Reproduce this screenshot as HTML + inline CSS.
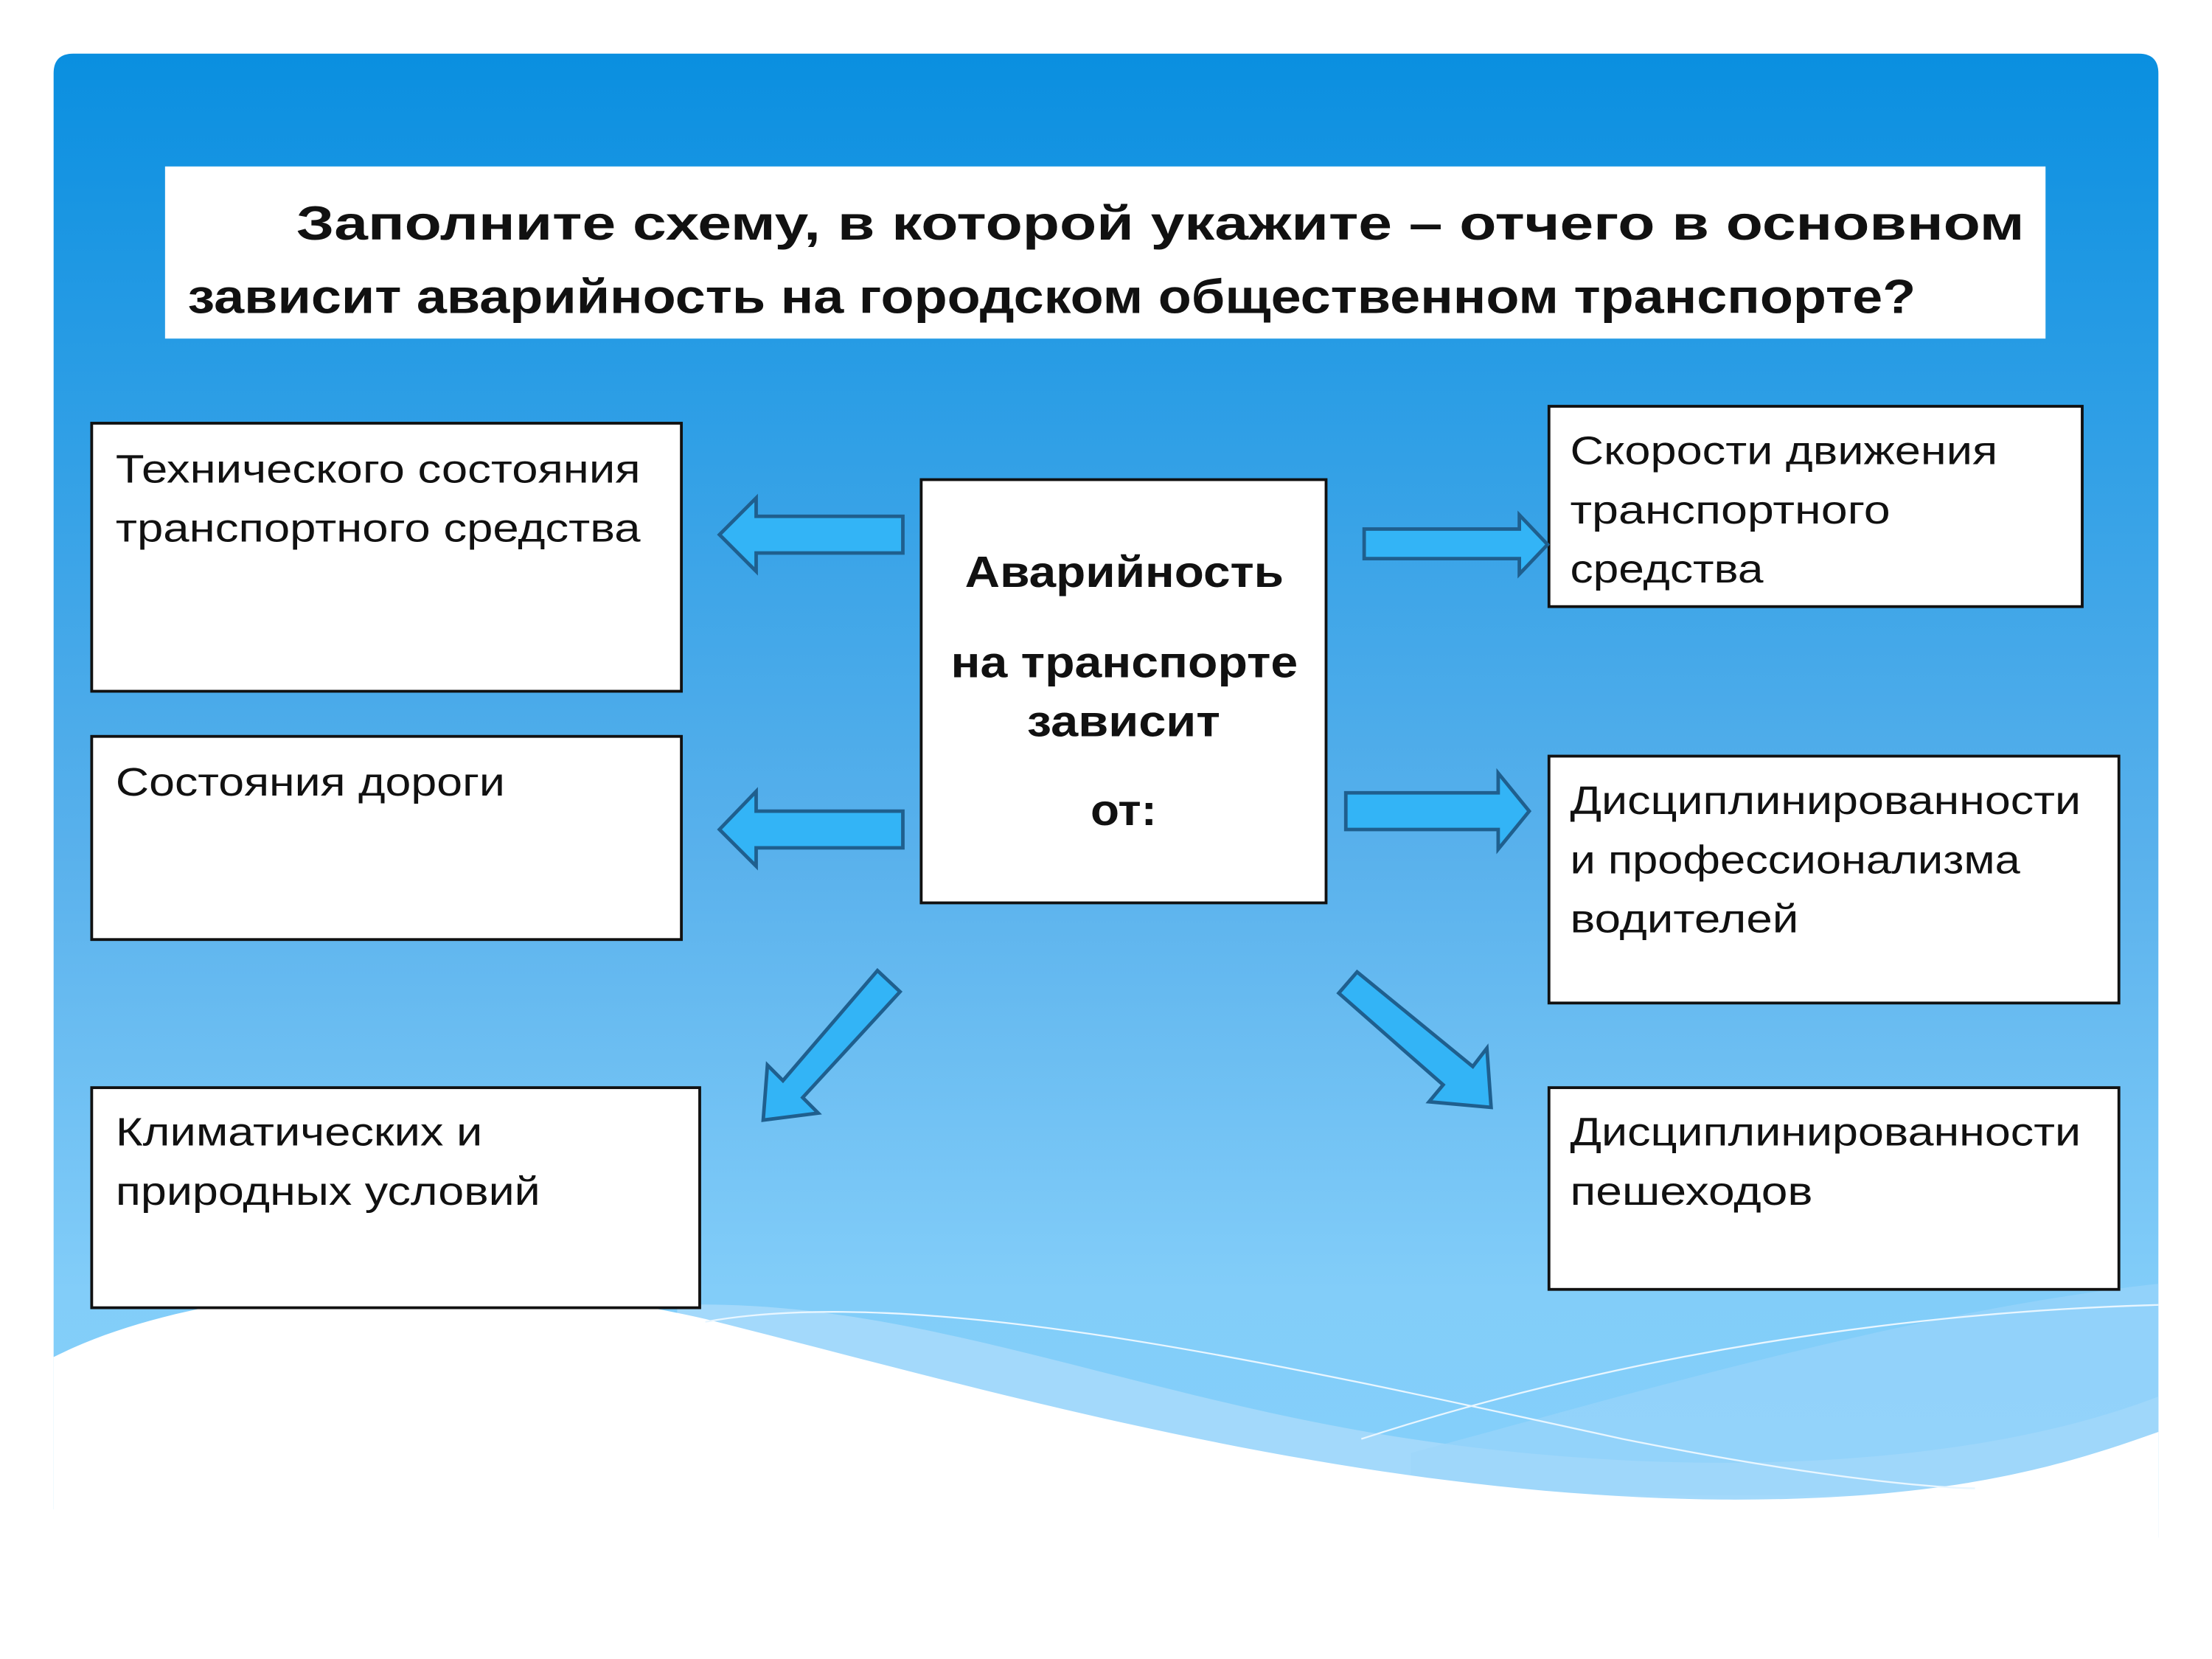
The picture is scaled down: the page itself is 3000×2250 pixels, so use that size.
<!DOCTYPE html>
<html><head><meta charset="utf-8"><style>
html,body{margin:0;padding:0;background:#fff;}
svg{display:block;}
.t{font-family:"Liberation Sans",sans-serif;font-size:28px;fill:#111;}
.b{font-family:"Liberation Sans",sans-serif;font-weight:bold;font-size:31px;fill:#111;}
.h{font-family:"Liberation Sans",sans-serif;font-weight:bold;font-size:34px;fill:#111;}
.ar{fill:#33b4f6;stroke:#1f5f8e;stroke-width:2.5;}
.bx{fill:#fff;stroke:#111;stroke-width:2;}
</style></head><body>
<svg width="3000" height="2250" viewBox="0 0 1568 1176" preserveAspectRatio="none" xmlns="http://www.w3.org/2000/svg">
<defs>
<linearGradient id="bg" x1="0" y1="0" x2="0" y2="1">
<stop offset="0" stop-color="#0a8fe0"/>
<stop offset="0.55" stop-color="#59b1ec"/>
<stop offset="0.85" stop-color="#82cdf9"/>
<stop offset="1" stop-color="#85d0fa"/>
</linearGradient>
</defs>
<path d="M38,52 Q38,38 52,38 L1516,38 Q1530,38 1530,52 L1530,1070 L38,1070 Z" fill="url(#bg)"/>
<path d="M480,925 C650,920 800,990 1000,1020 C1200,1050 1400,1040 1530,990 L1530,1090 L480,1090 Z" fill="#a3d9fb"/>
<path d="M1000,1030 C1150,990 1350,930 1530,910 L1530,1060 L1000,1060 Z" fill="#9cd6fa" opacity="0.6"/>
<path d="M38,962 C150,905 350,900 500,935 C700,985 950,1060 1220,1063 C1380,1064 1460,1040 1530,1015 L1530,1176 L38,1176 Z" fill="#fff"/>
<path d="M500,937 C650,910 900,965 1150,1020 C1300,1050 1380,1055 1400,1055" fill="none" stroke="#e8f6ff" stroke-width="1.2"/>
<path d="M965,1020 C1150,960 1350,930 1530,925" fill="none" stroke="#e8f6ff" stroke-width="1.2"/>

<rect x="117" y="118" width="1333" height="122" fill="#fff"/>
<text class="h" x="210" y="170" textLength="1225" lengthAdjust="spacingAndGlyphs">Заполните схему, в которой укажите – отчего в основном</text>
<text class="h" x="133" y="222" textLength="1225" lengthAdjust="spacingAndGlyphs">зависит аварийность на городском общественном транспорте?</text>

<rect class="bx" x="65" y="300" width="418" height="190"/>
<text class="t" x="82" y="342" textLength="372" lengthAdjust="spacingAndGlyphs">Технического состояния</text>
<text class="t" x="82" y="384" textLength="372" lengthAdjust="spacingAndGlyphs">транспортного средства</text>
<rect class="bx" x="65" y="522" width="418" height="144"/>
<text class="t" x="82" y="564" textLength="276" lengthAdjust="spacingAndGlyphs">Состояния дороги</text>
<rect class="bx" x="65" y="771" width="431" height="156"/>
<text class="t" x="82" y="812" textLength="260" lengthAdjust="spacingAndGlyphs">Климатических и</text>
<text class="t" x="82" y="854" textLength="301" lengthAdjust="spacingAndGlyphs">природных условий</text>

<rect class="bx" x="653" y="340" width="287" height="300"/>
<text class="b" x="684" y="416" textLength="226" lengthAdjust="spacingAndGlyphs">Аварийность</text>
<text class="b" x="674" y="480" textLength="246" lengthAdjust="spacingAndGlyphs">на транспорте</text>
<text class="b" x="728" y="522" textLength="137" lengthAdjust="spacingAndGlyphs">зависит</text>
<text class="b" x="773" y="585" textLength="47" lengthAdjust="spacingAndGlyphs">от:</text>

<rect class="bx" x="1098" y="288" width="378" height="142"/>
<text class="t" x="1113" y="329" textLength="303" lengthAdjust="spacingAndGlyphs">Скорости движения</text>
<text class="t" x="1113" y="371" textLength="227" lengthAdjust="spacingAndGlyphs">транспортного</text>
<text class="t" x="1113" y="413" textLength="137" lengthAdjust="spacingAndGlyphs">средства</text>
<rect class="bx" x="1098" y="536" width="404" height="175"/>
<text class="t" x="1113" y="577" textLength="362" lengthAdjust="spacingAndGlyphs">Дисциплинированности</text>
<text class="t" x="1113" y="619" textLength="319" lengthAdjust="spacingAndGlyphs">и профессионализма</text>
<text class="t" x="1113" y="661" textLength="162" lengthAdjust="spacingAndGlyphs">водителей</text>
<rect class="bx" x="1098" y="771" width="404" height="143"/>
<text class="t" x="1113" y="812" textLength="362" lengthAdjust="spacingAndGlyphs">Дисциплинированности</text>
<text class="t" x="1113" y="854" textLength="172" lengthAdjust="spacingAndGlyphs">пешеходов</text>

<polygon class="ar" points="640,366 536,366 536,353 510,379 536,405 536,392 640,392"/>
<polygon class="ar" points="640,575 536,575 536,561 510,588 536,614 536,601 640,601"/>
<polygon class="ar" points="967,375 1077,375 1077,365 1097,386 1077,407 1077,396 967,396"/>
<polygon class="ar" points="954,562 1062,562 1062,548 1084,575 1062,602 1062,588 954,588"/>
<polygon class="ar" points="622,688 638,703 569,778 580,789 541,794 544,755 555,766"/>
<polygon class="ar" points="962,689 949,704 1023,769 1013,781 1057,785 1054,743 1044,756"/>
</svg>
</body></html>
